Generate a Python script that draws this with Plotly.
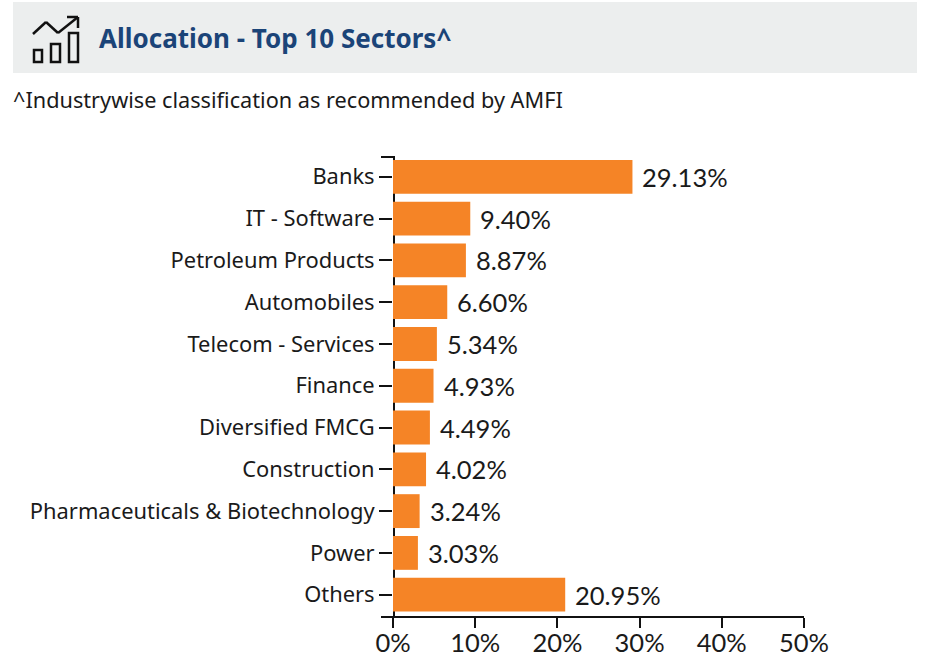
import plotly.graph_objects as go

categories = ["Banks", "IT - Software", "Petroleum Products", "Automobiles", "Telecom - Services",
              "Finance", "Diversified FMCG", "Construction", "Pharmaceuticals &amp; Biotechnology", "Power", "Others"]
values = [29.13, 9.40, 8.87, 6.60, 5.34, 4.93, 4.49, 4.02, 3.24, 3.03, 20.95]
x_ticks = [0, 10, 20, 30, 40, 50]
title = "Allocation - Top 10 Sectors^"
subtitle = "^Industrywise classification as recommended by AMFI"

W, H = 932, 657
L, R, T, B = 393, 804, 157, 616
def px(x): return (x - L) / (R - L)
def py(y): return (B - y) / (B - T)

fig = go.Figure(go.Bar(x=values, y=categories, orientation="h", marker=dict(color="#F58426", line_width=0),
                       width=0.81, hoverinfo="skip"))

ann = [dict(x=v, y=c, xref="x", yref="y", text=f"{v:.2f}%", showarrow=False, xanchor="left", yanchor="middle",
            xshift=8, yshift=0, font=dict(family="Lato", size=25.5, color="#1a1a1a")) for c, v in zip(categories, values)]
ann.append(dict(x=px(97), y=py(38), xref="paper", yref="paper", text=f"<b>{title}</b>", showarrow=False,
                xanchor="left", yanchor="middle", font=dict(family="Noto Sans", size=26, color="#1B4478")))
ann.append(dict(x=px(11), y=py(99), xref="paper", yref="paper", text=subtitle, showarrow=False,
                xanchor="left", yanchor="middle", font=dict(family="Noto Sans", size=21.7, color="#1a1a1a")))

def line(x0, y0, x1, y1, w=2, layer="above"):
    return dict(type="line", xref="paper", yref="paper", x0=px(x0), y0=py(y0), x1=px(x1), y1=py(y1),
                line=dict(color="#111111", width=w), layer=layer)
def rect(x0, y0, x1, y1, w=2.5):
    return dict(type="rect", xref="paper", yref="paper", x0=px(x0), y0=py(y0), x1=px(x1), y1=py(y1),
                line=dict(color="#111111", width=w), fillcolor="rgba(0,0,0,0)", layer="above")

shapes = [
    dict(type="rect", xref="paper", yref="paper", x0=px(13), y0=py(2), x1=px(917), y1=py(73),
         fillcolor="#ECEEEE", line_width=0, layer="below"),
    line(394, 156, 394, 617, 2, "below"),
    line(381, 157, 395, 157), line(381, 617, 393, 617),
    line(33, 34, 46, 22, 2.5), line(46, 22, 58, 33, 2.5), line(58, 33, 78, 17, 2.5),
    line(67, 17, 78, 17, 2.5), line(78, 17, 78, 28, 2.5),
    rect(34, 50, 42, 62), rect(51, 44, 60, 62), rect(69, 33, 78, 62),
]

fig.update_layout(
    width=W, height=H, margin=dict(l=L, r=W - R, t=T, b=H - B, pad=0), autosize=False,
    paper_bgcolor="white", plot_bgcolor="white", showlegend=False, shapes=shapes, annotations=ann,
    xaxis=dict(range=[0, 50], tickvals=x_ticks, ticktext=[f"{t}%" for t in x_ticks], ticks="outside", ticklen=10,
               tickwidth=2, tickcolor="#111111", showgrid=False, zeroline=False, showline=True, linecolor="#111111",
               linewidth=2, automargin=False, ticklabelstandoff=-7,
               tickfont=dict(family="Lato", size=25.5, color="#1a1a1a")),
    yaxis=dict(categoryorder="array", categoryarray=categories, range=[10.51, -0.474], ticks="outside", ticklen=13,
               tickwidth=2, tickcolor="#111111", showgrid=False, zeroline=False, showline=False,
               automargin=False, layer="below traces",
               tickfont=dict(family="Noto Sans", size=21.9, color="#1a1a1a")),
)
fig.write_html("out.html", config={"displayModeBar": False}, post_script="document.body.style.margin='0';")
